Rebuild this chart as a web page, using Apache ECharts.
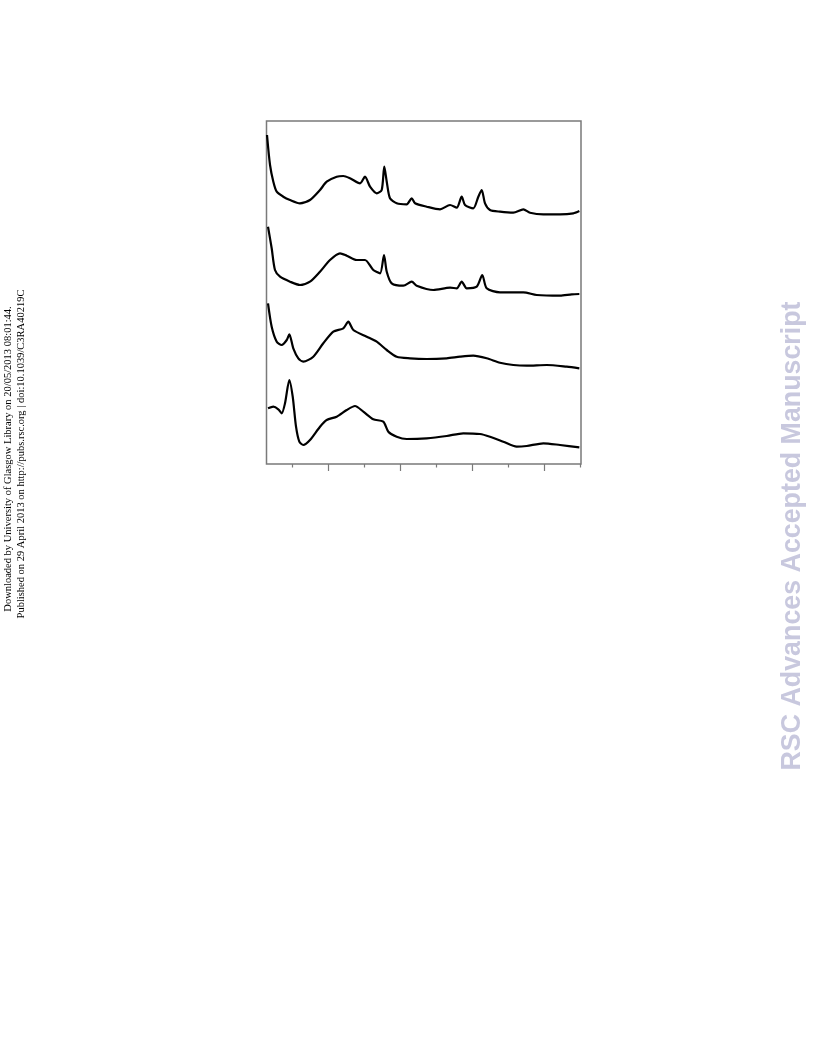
<!DOCTYPE html>
<html>
<head>
<meta charset="utf-8">
<script src="https://cdn.jsdelivr.net/npm/echarts@6/dist/echarts.min.js"></script>
<style>
html,body{margin:0;padding:0;background:#fff;}
#chart{width:816px;height:1056px;}
</style>
</head>
<body>
<div id="chart"></div>
<script>
// 2θ (°) positions and intensities (a.u., stacked offsets)
const t1x = [1.43,1.85,2.31,2.78,3.69,4.63,6.01,7.40,8.79,9.72,11.11,12.03,12.96,14.35,15.04,15.74,16.67,17.36,17.72,18.06,18.51,19.44,20.83,21.53,21.99,23.61,25.46,26.85,27.78,28.47,28.93,30.08,30.78,31.25,31.71,32.40,33.79,35.64,37.03,37.96,39.81,42.13,43.97,44.81];
const t1y = [329,299,282.3,272.3,267.3,264,260.7,264,274,282.3,287.3,288,285.7,280.7,287.3,277.3,270.7,274,297.3,282.3,265.7,260.7,259.7,265.7,260.7,257.3,254.6,259,256.3,267.3,259,255.7,267.3,274,260.7,254,252.3,251.3,254.6,251.3,249.7,249.7,250.7,253];

const t2x = [1.57,2.08,2.54,3.24,4.63,6.01,7.40,8.79,10.18,11.57,12.5,13.89,15.04,16.19,17.13,17.68,18.06,18.75,20.36,21.53,22.22,24.53,26.85,27.78,28.47,29.17,30.56,31.33,31.94,33.79,37.03,38.89,42.13,43.75,44.81];
const t2y = [237.3,215.7,194,187.3,182.3,179,182.3,192.3,204,210.7,208.3,204,204,194,190.7,209,192.3,180.7,178.3,182.3,178.3,174,176.3,175.7,182.3,175.7,177.3,189,175.7,171.7,171.7,169,168.3,169.7,170];

const t3x = [1.57,2.08,2.78,3.47,4.17,4.53,5.08,5.78,6.47,7.86,9.25,10.64,12.03,12.72,13.42,15.28,16.67,18.06,19.44,21.29,23.61,26.39,28.24,30.08,31.94,33.79,35.64,37.5,40.28,43.06,44.81];
const t3y = [160.7,137.3,122.3,119,124,129.7,115.7,105.7,102.3,107.3,120.7,132.3,135.7,142.3,134,127.3,122.3,114,107.3,105.7,105,105.7,107.3,108.3,105.7,101.3,99,98.3,99,97.3,95.7];

const t4x = [1.57,2.31,3.0,3.47,3.93,4.53,5.0,5.46,5.92,6.47,7.40,8.79,9.72,11.11,12.5,13.65,14.81,16.19,17.58,18.28,19.44,20.83,23.61,26.39,28.69,31.01,32.40,34.25,36.11,37.5,39.81,42.13,44.81];
const t4y = [55.7,57.3,54.7,50.7,60.7,84,67.3,37.3,22.3,19,24,37.3,44,47.3,54,58,52.3,44.7,42.3,32.3,27.3,25,25.7,28,30.7,30,27.3,22.3,17.3,18,20.7,19,16.7];

const majorTicks = [10,20,30,40];
const minorTicks = [5,15,25,35,45];

const traces = [[t1x,t1y],[t2x,t2y],[t3x,t3y],[t4x,t4y]];

const chart = echarts.init(document.getElementById('chart'), null, {renderer:'canvas'});
const axisBase = {
  type:'value', min:1.36, max:45.04, position:'bottom',
  axisLine:{show:false}, splitLine:{show:false}, axisLabel:{show:false}
};
chart.setOption({
  animation:false,
  backgroundColor:'#ffffff',
  grid:{left:266.5, top:121, width:314.5, height:343, show:true, borderColor:'#7a7a7a', borderWidth:1.5, backgroundColor:'transparent'},
  xAxis:[
    Object.assign({}, axisBase, {axisTick:{show:true, inside:false, length:7, customValues:majorTicks, lineStyle:{color:'#7a7a7a', width:1.2}}}),
    Object.assign({}, axisBase, {axisTick:{show:true, inside:false, length:3.5, customValues:minorTicks, lineStyle:{color:'#7a7a7a', width:1.2}}})
  ],
  yAxis:{type:'value', min:0, max:343, show:false},
  series: traces.map(([xs,ys]) => ({
    type:'line', xAxisIndex:0, showSymbol:false, smooth:0.25,
    data: xs.map((x,i)=>[x, ys[i]]),
    lineStyle:{color:'#000', width:2.2}
  })),
  graphic:[
    {type:'text', x:8, y:459, rotation:Math.PI/2,
     style:{text:'Downloaded by University of Glasgow Library on 20/05/2013 08:01:44.', font:'10.5px "Liberation Serif", serif', fill:'#000', textAlign:'center', textVerticalAlign:'middle'}},
    {type:'text', x:21, y:454, rotation:Math.PI/2,
     style:{text:'Published on 29 April 2013 on http://pubs.rsc.org | doi:10.1039/C3RA40219C', font:'10.5px "Liberation Serif", serif', fill:'#000', textAlign:'center', textVerticalAlign:'middle'}},
    {type:'text', x:793, y:536, rotation:Math.PI/2,
     style:{text:'RSC Advances Accepted Manuscript', font:'bold 26.8px "Liberation Sans", Arial, sans-serif', fill:'#c8c8de', textAlign:'center', textVerticalAlign:'middle'}}
  ]
});
</script>
</body>
</html>
